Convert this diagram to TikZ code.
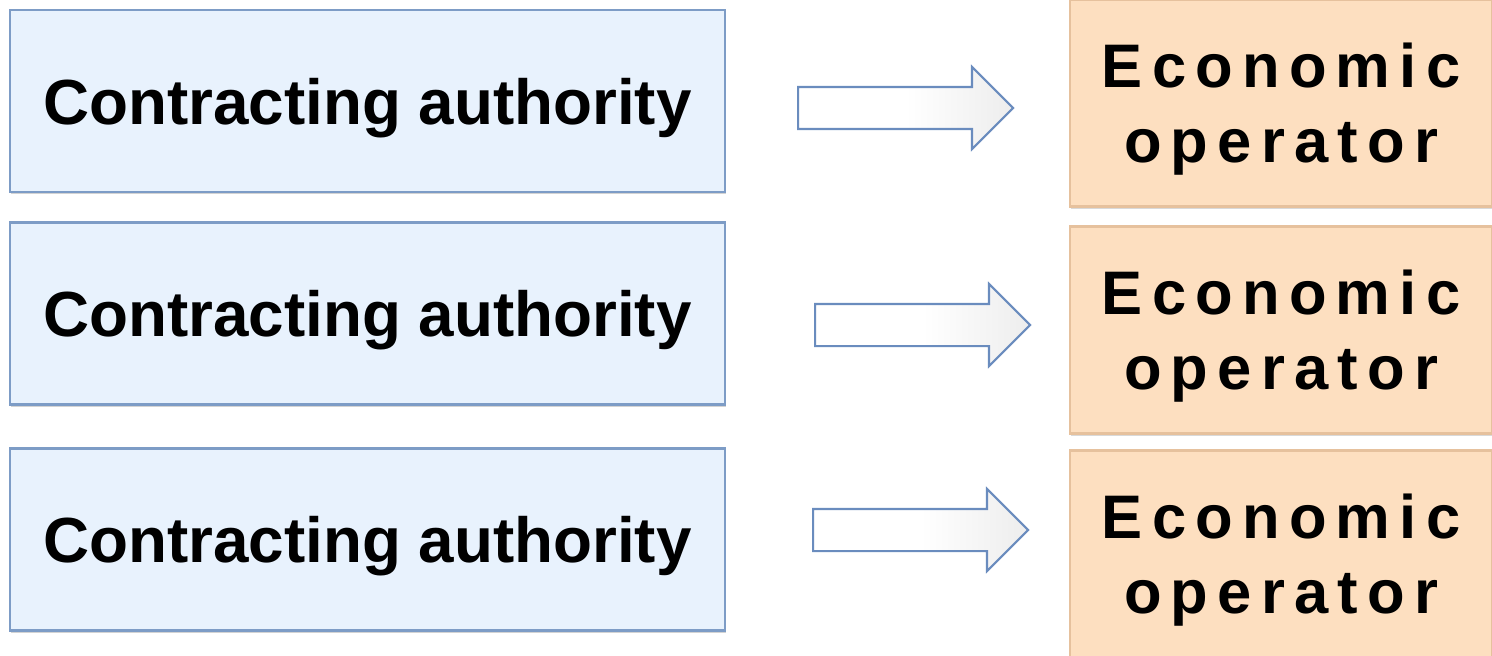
\documentclass[tikz,border=0pt]{standalone}
\usepackage{fontspec}
\setmainfont{Liberation Sans}
\usetikzlibrary{shapes.arrows,shadows}

\definecolor{caFill}{HTML}{E8F2FD}
\definecolor{caEdge}{HTML}{7D9CC6}
\definecolor{eoFill}{HTML}{FDDFC0}
\definecolor{eoEdge}{HTML}{E6C19D}
\definecolor{arEdge}{HTML}{6A8CBE}

\tikzset{
    authbox/.style={draw=caEdge, fill=caFill, line width=1.6pt,
        minimum width=14.3cm, minimum height=3.64cm, inner sep=0pt,
        text depth=0pt,
        drop shadow={shadow xshift=0.6pt, shadow yshift=-1.2pt, opacity=0.35},
        font=\bfseries\fontsize{36.3}{40}\selectfont},
    operbox/.style={draw=eoEdge, fill=eoFill, line width=1.6pt,
        minimum width=8.44cm, minimum height=4.14cm, inner sep=0pt, align=center,
        text height=75pt,
        drop shadow={shadow xshift=0.6pt, shadow yshift=-1.2pt, opacity=0.3},
        font=\bfseries\fontsize{35}{42.5}\selectfont\addfontfeature{LetterSpace=15}},
    blockarrow/.style={single arrow, draw=arEdge, line width=1.2pt,
        left color=white, right color=gray!14, middle color=white,
        minimum height=4.3cm, inner sep=0.4cm, anchor=tail,
        single arrow head extend=0.4cm, single arrow tip angle=90}
}

\begin{document}
\begin{tikzpicture}[x=0.02cm, y=-0.02cm]
    \useasboundingbox (0,0) rectangle (1492,656);
    \clip (0,0) rectangle (1492,656);

    % contracting authorities
    \node[authbox] (CA_1) at (367.5,101) {Contracting authority};
    \node[authbox] (CA_2) at (367.5,313.5) {Contracting authority};
    \node[authbox] (CA_3) at (367.5,539.5) {Contracting authority};

    % economic operators
    \node[operbox] (EO_1) at (1281,103) {Economic\\operator};
    \node[operbox] (EO_2) at (1281,330) {Economic\\operator};
    \node[operbox] (EO_3) at (1281,554) {Economic\\operator};

    % arrows
    \node[blockarrow] (AR_1) at (797,108) {};
    \node[blockarrow] (AR_2) at (814,325) {};
    \node[blockarrow] (AR_3) at (812,530) {};
\end{tikzpicture}
\end{document}
